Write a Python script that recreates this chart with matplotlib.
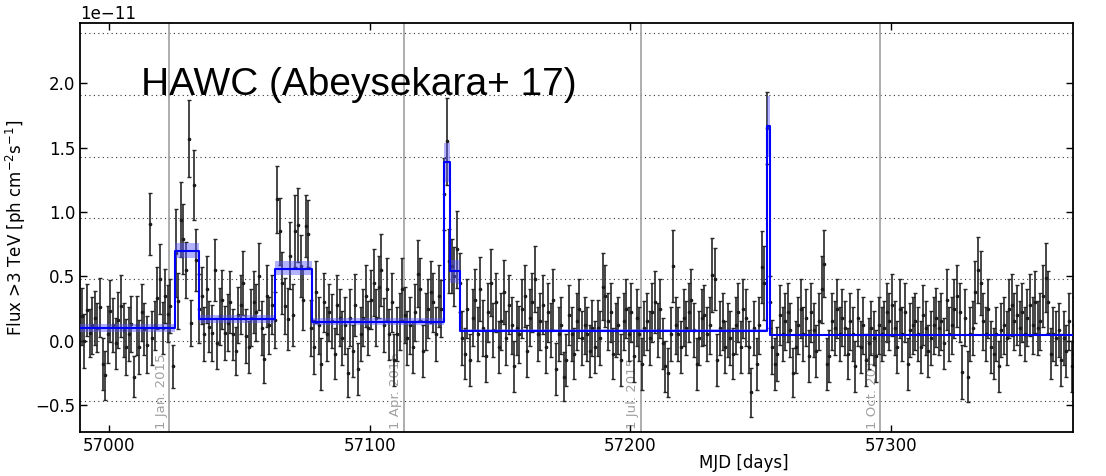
import numpy as np
import matplotlib
matplotlib.use("Agg")
import matplotlib.pyplot as plt

# ---------------- data (flux in units of 1e-11 ph cm^-2 s^-1) ----------------
segA_start = 56989.5
segA_flux = [0.19, 0.00, 0.24, 0.06, 0.12, 0.18, 0.10, 0.26, -0.18, -0.27,
             0.05, 0.23, 0.12, -0.02, 0.16, 0.27, 0.08, -0.05, 0.05, 0.13,
             -0.28, 0.12, -0.05, 0.22, 0.09, -0.03, 0.91, 0.02, 0.12, 0.33,
             0.48, 0.10, 0.35, 0.21, 0.27, -0.20]
segA_err = [0.22, 0.21, 0.20, 0.19, 0.22, 0.21, 0.19, 0.23, 0.20, 0.19,
            0.22, 0.24, 0.21, 0.20, 0.22, 0.24, 0.21, 0.22, 0.21, 0.22,
            0.16, 0.23, 0.21, 0.22, 0.20, 0.22, 0.24, 0.21, 0.19, 0.24,
            0.27, 0.20, 0.21, 0.22, 0.21, 0.17]

segB_start = 57025.5
segB_flux = [0.68, 0.31, 0.94, 0.79, 0.55, 1.57, 0.14, 1.21, 0.63, 0.25]
segB_err = [0.34, 0.22, 0.29, 0.27, 0.22, 0.30, 0.18, 0.27, 0.24, 0.27]

segC_start = 57035.5
segC_flux = [0.35, 0.05, 0.40, 0.11, 0.06, 0.55, -0.02, 0.19, 0.32, 0.06,
             0.14, 0.30, 0.05, -0.08, 0.20, 0.28, 0.45, 0.04, -0.05, 0.18,
             0.30, 0.22, 0.50, 0.10, -0.14, 0.35, 0.12, 0.28, 0.16]
segC_err = [0.22, 0.21, 0.26, 0.20, 0.22, 0.24, 0.20, 0.22, 0.23, 0.21,
            0.22, 0.24, 0.20, 0.19, 0.22, 0.23, 0.25, 0.21, 0.20, 0.22,
            0.24, 0.22, 0.26, 0.21, 0.19, 0.24, 0.22, 0.23, 0.22]

segD_start = 57064.5
segD_flux = [1.10, 0.85, 0.45, 0.27, 0.17, 0.66, 0.20, 0.85, 0.90, 0.58,
             0.32, 0.89, 0.83, 0.10]
segD_err = [0.26, 0.26, 0.24, 0.22, 0.24, 0.26, 0.24, 0.28, 0.29, 0.24,
            0.24, 0.24, 0.26, 0.22]

segE_start = 57078.5
segE_flux = [-0.05, 0.38, 0.12, -0.18, 0.30, 0.05, 0.22, 0.15, -0.10, 0.28,
             0.18, 0.02, 0.12, -0.25, 0.18, -0.08, 0.28, -0.22, 0.05, 0.18,
             0.35, 0.10, 0.32, 0.45, 0.18, 0.42, 0.55, 0.12, 0.40, 0.05,
             0.30, -0.15, 0.05, 0.15, 0.40, 0.20, 0.02, 0.12, -0.05, 0.22,
             0.52, 0.40, -0.08, 0.15, 0.25, 0.38, 0.30, 0.05, 0.35, 0.25]
segE_err = [0.21, 0.24, 0.22, 0.20, 0.23, 0.21, 0.22, 0.21, 0.20, 0.23,
            0.22, 0.21, 0.22, 0.19, 0.22, 0.20, 0.24, 0.20, 0.21, 0.22,
            0.24, 0.21, 0.23, 0.26, 0.22, 0.24, 0.28, 0.21, 0.24, 0.20,
            0.23, 0.20, 0.21, 0.22, 0.24, 0.22, 0.21, 0.22, 0.20, 0.22,
            0.26, 0.24, 0.20, 0.22, 0.23, 0.24, 0.23, 0.21, 0.24, 0.22]

segF_start = 57128.5
segF_flux = [1.14, 1.55, 0.62, 0.58, 0.50, 0.71, 0.45]
segF_err = [0.28, 0.34, 0.25, 0.21, 0.23, 0.30, 0.23]

segG_start = 57135.5
segG_flux = [0.02, -0.10, 0.25, -0.15, 0.18, 0.32, 0.05, 0.40, 0.10, -0.12,
             0.22, 0.45, 0.08, 0.30, -0.05, 0.15, 0.38, 0.02, 0.28, 0.12,
             -0.20, 0.10, 0.05, 0.25, 0.35, -0.08, 0.18, 0.30, 0.48, 0.05,
             0.15, 0.28, -0.05, 0.22, 0.08, 0.32, -0.22, 0.05, 0.12, -0.28,
             -0.15, 0.20, 0.05, -0.10, 0.15, 0.25, 0.02, 0.12, 0.05, -0.08,
             0.10, -0.05, 0.10, 0.02, 0.42, 0.35, 0.15, 0.22, -0.10, 0.08,
             0.12, -0.15, 0.15, 0.25, 0.05, 0.22, -0.12, 0.18, 0.05, -0.18,
             0.10, 0.15, 0.02, 0.22, 0.30, 0.08, 0.25, -0.02, -0.20, -0.25,
             0.05, 0.58, 0.12, 0.05, -0.05, 0.18, 0.10, 0.22, 0.32, 0.08,
             -0.18, 0.02, 0.18, 0.20, 0.05, 0.12, 0.51, 0.48, -0.15, 0.10,
             0.15, -0.05, 0.08, 0.02, -0.10, 0.12, 0.22, -0.05, 0.25, 0.18,
             -0.05, -0.40, 0.10, -0.18, 0.12, 0.57, 0.45]
segG_err = [0.21, 0.20, 0.23, 0.20, 0.22, 0.24, 0.21, 0.25, 0.22, 0.20,
            0.23, 0.26, 0.21, 0.23, 0.20, 0.22, 0.25, 0.21, 0.23, 0.22,
            0.20, 0.21, 0.22, 0.23, 0.24, 0.20, 0.22, 0.23, 0.26, 0.21,
            0.22, 0.23, 0.20, 0.23, 0.21, 0.24, 0.20, 0.21, 0.22, 0.19,
            0.20, 0.23, 0.21, 0.20, 0.22, 0.23, 0.21, 0.22, 0.21, 0.20,
            0.22, 0.20, 0.22, 0.21, 0.26, 0.24, 0.22, 0.23, 0.20, 0.21,
            0.22, 0.20, 0.22, 0.23, 0.21, 0.23, 0.20, 0.22, 0.21, 0.20,
            0.21, 0.22, 0.21, 0.23, 0.24, 0.21, 0.23, 0.20, 0.20, 0.19,
            0.21, 0.28, 0.22, 0.21, 0.20, 0.22, 0.21, 0.23, 0.24, 0.21,
            0.20, 0.21, 0.22, 0.23, 0.21, 0.22, 0.29, 0.24, 0.20, 0.21,
            0.22, 0.20, 0.21, 0.21, 0.20, 0.22, 0.23, 0.20, 0.23, 0.22,
            0.20, 0.19, 0.21, 0.20, 0.22, 0.28, 0.29]

segH_start = 57252.5
segH_flux = [1.65, 0.30]
segH_err = [0.28, 0.20]

segI_start = 57254.5
segI_flux = [-0.05, -0.18, -0.10, 0.20, 0.05, 0.15, 0.22, 0.08, -0.25, -0.05,
             0.12, 0.25, 0.05, 0.18, -0.12, 0.22, 0.08, -0.08, 0.15, 0.40,
             0.60, -0.18, -0.12, 0.15, 0.10, 0.25, 0.05, 0.18, 0.10, -0.10,
             0.15, 0.05, -0.20, 0.18, -0.05, 0.12, -0.15, -0.02, 0.10, 0.02,
             -0.12, 0.12, 0.05, 0.10, 0.22, 0.15, 0.28, 0.10, -0.05, 0.25,
             0.05, 0.22, -0.18, 0.08, 0.12, 0.15, 0.05, -0.05, 0.20, 0.10,
             -0.08, 0.02, 0.12, 0.18, 0.10, 0.15, -0.02, 0.32, 0.05, 0.12,
             0.25, 0.35, 0.22, -0.24, 0.18, -0.28, 0.05, 0.10, 0.38, 0.55,
             0.45, 0.15, 0.05, 0.25, -0.05, -0.10, 0.05, -0.20, 0.08, 0.12,
             0.02, 0.25, 0.28, 0.15, 0.20, 0.10, 0.22, 0.05, 0.18, 0.28,
             0.12, 0.30, 0.10, 0.15, 0.35, 0.49, 0.30, -0.10, 0.05, 0.02,
             0.08, -0.15, 0.02, -0.08, 0.15, -0.20, 0.12]
segI_err = [0.21, 0.20, 0.21, 0.23, 0.21, 0.22, 0.23, 0.21, 0.19, 0.20,
            0.22, 0.23, 0.21, 0.22, 0.20, 0.23, 0.21, 0.20, 0.22, 0.26,
            0.26, 0.20, 0.20, 0.22, 0.21, 0.23, 0.21, 0.22, 0.21, 0.20,
            0.22, 0.21, 0.20, 0.22, 0.20, 0.22, 0.20, 0.20, 0.21, 0.21,
            0.20, 0.22, 0.21, 0.21, 0.23, 0.22, 0.24, 0.21, 0.20, 0.23,
            0.21, 0.23, 0.20, 0.21, 0.22, 0.22, 0.21, 0.20, 0.23, 0.21,
            0.20, 0.21, 0.22, 0.23, 0.21, 0.22, 0.20, 0.24, 0.21, 0.22,
            0.23, 0.24, 0.23, 0.21, 0.22, 0.20, 0.21, 0.21, 0.24, 0.26,
            0.25, 0.22, 0.21, 0.23, 0.20, 0.20, 0.21, 0.20, 0.21, 0.22,
            0.21, 0.23, 0.24, 0.22, 0.23, 0.21, 0.23, 0.21, 0.22, 0.24,
            0.22, 0.24, 0.21, 0.22, 0.24, 0.27, 0.24, 0.20, 0.21, 0.21,
            0.21, 0.20, 0.21, 0.20, 0.22, 0.20, 0.22]

segments = [
    (segA_start, segA_flux, segA_err),
    (segB_start, segB_flux, segB_err),
    (segC_start, segC_flux, segC_err),
    (segD_start, segD_flux, segD_err),
    (segE_start, segE_flux, segE_err),
    (segF_start, segF_flux, segF_err),
    (segG_start, segG_flux, segG_err),
    (segH_start, segH_flux, segH_err),
    (segI_start, segI_flux, segI_err),
]

# Bayesian-block light curve: edges, level, band low, band high
block_edges = [56988.8, 57025.4, 57034.6, 57063.6, 57077.7, 57128.5, 57130.7,
               57134.6, 57252.7, 57253.8, 57370.0]
block_level = [0.10, 0.70, 0.165, 0.56, 0.145, 1.39, 0.54, 0.078, 1.67, 0.045]
block_lo = [0.07, 0.64, 0.14, 0.51, 0.12, 1.23, 0.45, 0.065, 1.43, 0.035]
block_hi = [0.13, 0.76, 0.20, 0.62, 0.175, 1.54, 0.63, 0.092, 1.90, 0.055]

date_mjd = [57023, 57113, 57204, 57296]
date_labels = ["1 Jan. 2015", "1 Apr. 2015", "1 Jul. 2015", "1 Oct. 2015"]

grid_levels = [2.39, 1.91, 1.43, 0.955, 0.478, 0.0, -0.47]
xticks = [57000, 57100, 57200, 57300]
yticks = [-0.5, 0.0, 0.5, 1.0, 1.5, 2.0]

SCALE = 1e-11

# ---------------- figure ----------------
fig = plt.figure(figsize=(11.06, 4.76), dpi=100)
ax = fig.add_axes([80 / 1106, 44 / 476, 993 / 1106, 409 / 476])

for lv in grid_levels:
    ax.axhline(lv * SCALE, color="#333333", ls=(0, (1, 3)), lw=0.8, zorder=1)

for m in date_mjd:
    ax.axvline(m, color="#a0a0a0", lw=1.2, zorder=1)

for start, fl, er in segments:
    x = start + np.arange(len(fl))
    ax.errorbar(x, np.array(fl) * SCALE, yerr=np.array(er) * SCALE,
                fmt="o", ms=1.6, color="#1a1a1a", ecolor="#262626",
                elinewidth=1.2, capsize=1.3, capthick=1.0, zorder=2)

edges = np.array(block_edges)
for i in range(len(block_level)):
    ax.fill_between([edges[i], edges[i + 1]], block_lo[i] * SCALE,
                    block_hi[i] * SCALE, color="#5555ff", alpha=0.45,
                    lw=0, zorder=3)
lev = np.array(block_level + [block_level[-1]]) * SCALE
ax.step(edges, lev, where="post", color="#0000ff", lw=1.5, zorder=4)

for m, lab in zip(date_mjd, date_labels):
    ax.text(m - 0.6, -0.685 * SCALE, lab, rotation=90, ha="right",
            va="bottom", color="#a0a0a0", fontsize=9.5, zorder=1)

ax.set_xlim(56988.8, 57370)
ax.set_ylim(-0.71 * SCALE, 2.47 * SCALE)
ax.set_xticks(xticks)
ax.set_yticks([v * SCALE for v in yticks])
ax.tick_params(direction="in", top=True, right=True, labelsize=12,
               length=5, width=1)
ax.yaxis.get_offset_text().set_fontsize(12)
for s in ax.spines.values():
    s.set_linewidth(1.3)

ax.set_xlabel("MJD [days]", fontsize=12)
ax.xaxis.set_label_coords(0.668, -0.054)
ax.set_ylabel(r"Flux >3 TeV [ph cm$^{-2}$s$^{-1}$]", fontsize=12)
ax.yaxis.set_label_coords(-0.052, 0.5)

fig.text(141 / 1106, 1 - 95 / 476, "HAWC (Abeysekara+ 17)",
         family="Liberation Sans", fontsize=28, va="baseline", ha="left")

fig.savefig("out.png", dpi=100)
